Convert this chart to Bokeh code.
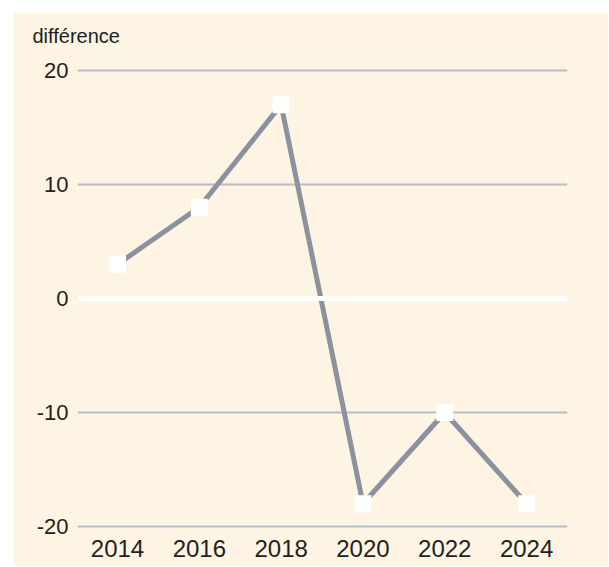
from bokeh.plotting import figure
from bokeh.models import Span, Range1d, FixedTicker, Spacer
from bokeh.layouts import column, row
from bokeh.embed import file_html
from bokeh.resources import INLINE

years = [2014, 2016, 2018, 2020, 2022, 2024]
values = [3, 8, 17, -18, -10, -18]
y_ticks = [-20, -10, 0, 10, 20]
x_ticks = [2014, 2016, 2018, 2020, 2022, 2024]
y_title = "différence"

CREAM = "#fdf4e3"
FONT = "Liberation Sans"
TXT = "#231f20"

p = figure(width=595, height=554, output_backend="svg", toolbar_location=None,
           x_range=Range1d(2013.022, 2025.0), y_range=Range1d(-20.35, 21.05),
           min_border_left=64, min_border_right=41, min_border_top=46, min_border_bottom=36,
           background_fill_color=CREAM, border_fill_color=CREAM,
           title=y_title)
p.outline_line_color = None

p.title.text_font = FONT
p.title.text_font_size = "20px"
p.title.text_font_style = "normal"
p.title.text_color = TXT
p.title.align = "left"
p.title.offset = -45
p.title.standoff = 20
p.title.vertical_align = "top"

p.xgrid.grid_line_color = None
p.ygrid.grid_line_color = "#b8bcc5"
p.ygrid.grid_line_width = 2
p.ygrid.ticker = FixedTicker(ticks=y_ticks)

for ax in (p.xaxis[0], p.yaxis[0]):
    ax.axis_line_color = None
    ax.major_tick_line_color = None
    ax.minor_tick_line_color = None
    ax.major_tick_out = 0
    ax.major_tick_in = 0
    ax.major_label_text_font = FONT
    ax.major_label_text_color = TXT

p.yaxis.ticker = FixedTicker(ticks=y_ticks)
p.yaxis.major_label_overrides = {t: str(t) for t in y_ticks}
p.yaxis.major_label_standoff = 9
p.yaxis.major_label_text_font_size = "22px"
p.xaxis.ticker = FixedTicker(ticks=x_ticks)
p.xaxis.major_label_overrides = {t: str(t) for t in x_ticks}
p.xaxis.major_label_standoff = 9
p.xaxis.major_label_text_font_size = "24px"

p.add_layout(Span(location=0, dimension="width", line_color="white", line_width=5))

p.line(years, values, line_color="#8b919f", line_width=5)
p.scatter(years, values, marker="square", size=17, fill_color="white", line_color=None)

layout = column(Spacer(height=12), row(Spacer(width=13), p))
open("out.html", "w").write(file_html(layout, INLINE))
